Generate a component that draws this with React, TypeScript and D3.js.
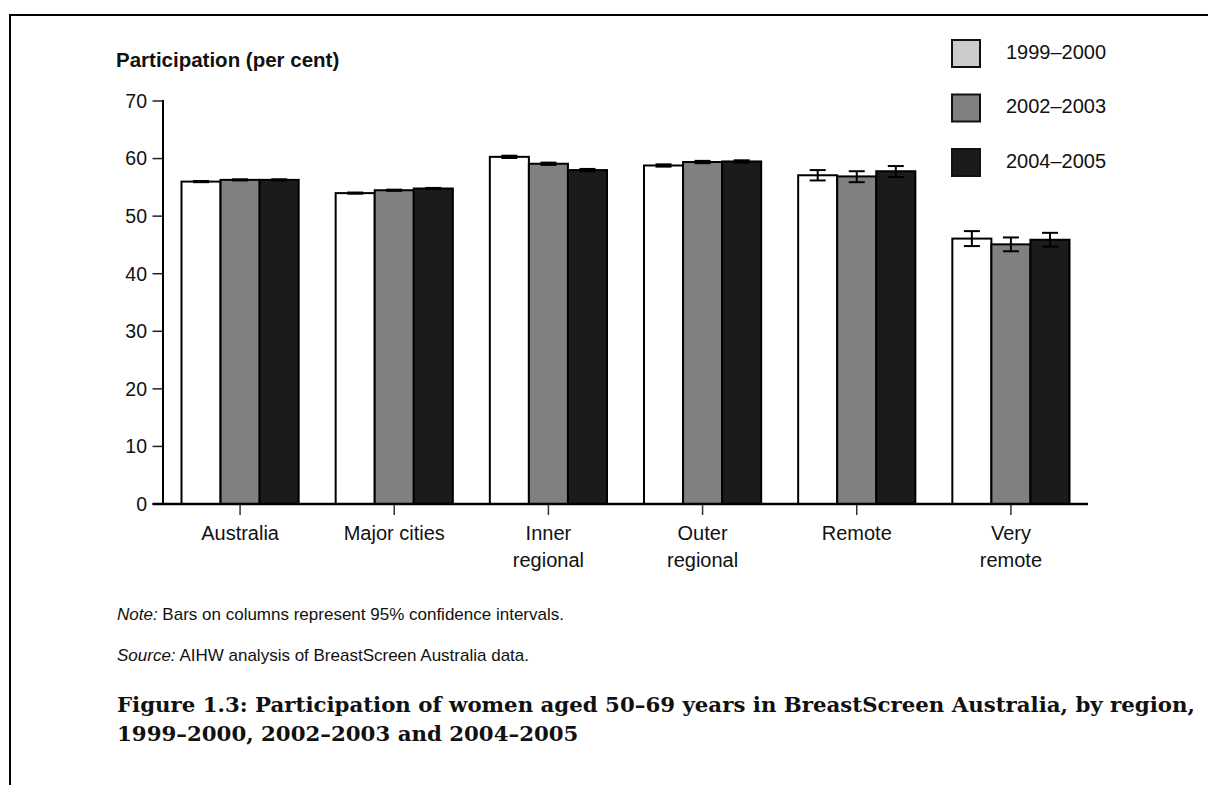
import React from "react";
import * as d3 from "d3";

const categories = ["Australia", "Major cities", "Inner regional", "Outer regional", "Remote", "Very remote"];
const categoryLines = [["Australia"], ["Major cities"], ["Inner", "regional"], ["Outer", "regional"], ["Remote"], ["Very", "remote"]];
const seriesNames = ["1999–2000", "2002–2003", "2004–2005"];
const values1999 = [56.0, 54.0, 60.3, 58.8, 57.1, 46.1];
const values2002 = [56.3, 54.5, 59.1, 59.4, 56.9, 45.1];
const values2004 = [56.3, 54.8, 58.0, 59.5, 57.8, 45.9];
const low1999 = [55.9, 53.9, 60.1, 58.6, 56.2, 44.8];
const high1999 = [56.1, 54.1, 60.5, 59.0, 58.0, 47.4];
const low2002 = [56.2, 54.4, 58.9, 59.2, 55.9, 43.9];
const high2002 = [56.4, 54.6, 59.3, 59.6, 57.8, 46.3];
const low2004 = [56.2, 54.7, 57.8, 59.3, 56.8, 44.7];
const high2004 = [56.4, 54.9, 58.2, 59.7, 58.7, 47.1];
const yTickValues = [0, 10, 20, 30, 40, 50, 60, 70];

const barFills = ["#ffffff", "#808080", "#1b1b1b"];
const legendFills = ["#cccccc", "#808080", "#1b1b1b"];

export default function App() {
  const W = 1208, H = 785;
  const x0 = d3.scaleBand<string>().domain(categories).range([163, 1088]).paddingInner(0.24).paddingOuter(0.12);
  const x1 = d3.scaleBand<string>().domain(seriesNames).range([0, x0.bandwidth()]);
  const y = d3.scaleLinear().domain([0, 70]).range([504, 101]);

  const series = [
    { name: seriesNames[0], v: values1999, lo: low1999, hi: high1999 },
    { name: seriesNames[1], v: values2002, lo: low2002, hi: high2002 },
    { name: seriesNames[2], v: values2004, lo: low2004, hi: high2004 },
  ];

  const legendY = d3.scalePoint<string>().domain(seriesNames).range([40, 149]);
  const font = "'Liberation Sans', Arial, sans-serif";
  const serif = "'DejaVu Serif', 'Liberation Serif', serif";

  return (
    <svg width={W} height={H} style={{ position: "absolute", left: 0, top: 0, background: "#fff" }} fontFamily={font}>
      {/* frame */}
      <line x1={10} y1={15} x2={W} y2={15} stroke="#000" strokeWidth={2} />
      <line x1={10} y1={14} x2={10} y2={H} stroke="#000" strokeWidth={2} />

      {/* axis title */}
      <text x={116} y={66.5} fontSize={20.5} fontWeight="bold" fill="#111">Participation (per cent)</text>

      {/* y ticks */}
      {yTickValues.map((t) => (
        <g key={t}>
          <line x1={152.5} x2={163} y1={y(t)} y2={y(t)} stroke="#222" strokeWidth={1.5} />
          <text x={147} y={y(t)} dy="0.35em" textAnchor="end" fontSize={19.5} fill="#111">{t}</text>
        </g>
      ))}

      {/* bars */}
      {series.map((s, si) =>
        categories.map((c, ci) => {
          const bx = (x0(c) as number) + (x1(s.name) as number);
          const bw = x1.bandwidth();
          return (
            <rect key={s.name + c} x={bx} y={y(s.v[ci])} width={bw} height={y(0) - y(s.v[ci])}
              fill={barFills[si]} stroke="#000" strokeWidth={2} />
          );
        })
      )}

      {/* error bars */}
      {series.map((s) =>
        categories.map((c, ci) => {
          const cx = (x0(c) as number) + (x1(s.name) as number) + x1.bandwidth() / 2;
          const cw = 8;
          return (
            <g key={"e" + s.name + c} stroke="#000" strokeWidth={2}>
              <line x1={cx} x2={cx} y1={y(s.hi[ci])} y2={y(s.lo[ci])} />
              <line x1={cx - cw} x2={cx + cw} y1={y(s.hi[ci])} y2={y(s.hi[ci])} />
              <line x1={cx - cw} x2={cx + cw} y1={y(s.lo[ci])} y2={y(s.lo[ci])} />
            </g>
          );
        })
      )}

      {/* axes lines */}
      <line x1={163} x2={163} y1={100} y2={505} stroke="#000" strokeWidth={2} />
      <line x1={152.5} x2={1088} y1={504} y2={504} stroke="#000" strokeWidth={2.5} />

      {/* category ticks and labels */}
      {categories.map((c, ci) => {
        const cx = (x0(c) as number) + x0.bandwidth() / 2;
        return (
          <g key={"c" + c}>
            <line x1={cx} x2={cx} y1={505} y2={515} stroke="#333" strokeWidth={1.5} />
            {categoryLines[ci].map((ln, li) => (
              <text key={li} x={cx} y={540 + li * 26.5} textAnchor="middle" fontSize={20} fill="#111">{ln}</text>
            ))}
          </g>
        );
      })}

      {/* legend */}
      {seriesNames.map((n, i) => (
        <g key={"l" + n}>
          <rect x={952} y={legendY(n) as number} width={28} height={27} fill={legendFills[i]} stroke="#111" strokeWidth={2} />
          <text x={1006} y={(legendY(n) as number) + 18.5} fontSize={20} fill="#111">{n}</text>
        </g>
      ))}

      {/* notes */}
      <text x={117} y={620} fontSize={17} fill="#111">
        <tspan fontStyle="italic">Note:</tspan> Bars on columns represent 95% confidence intervals.
      </text>
      <text x={117} y={661} fontSize={17} fill="#111">
        <tspan fontStyle="italic">Source:</tspan> AIHW analysis of BreastScreen Australia data.
      </text>

      {/* caption */}
      <text x={117} y={712} fontSize={21.3} fontWeight="bold" fill="#111" fontFamily={serif}>
        Figure 1.3: Participation of women aged 50–69 years in BreastScreen Australia, by region,
      </text>
      <text x={117} y={741} fontSize={21.3} fontWeight="bold" fill="#111" fontFamily={serif}>
        1999–2000, 2002–2003 and 2004–2005
      </text>
    </svg>
  );
}
